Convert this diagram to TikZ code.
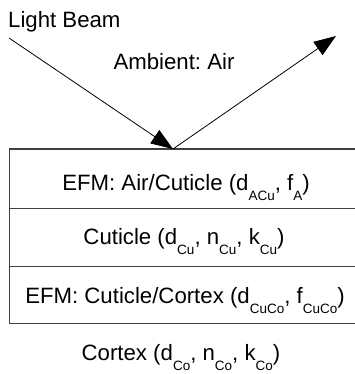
\documentclass[tikz,border=0pt]{standalone}
\usepackage{fontspec}
\setmainfont{Liberation Sans}
\usetikzlibrary{arrows.meta}
\frenchspacing
\newcommand{\sbs}[1]{\raisebox{-10pt}{\fontsize{13.5}{14}\selectfont #1}}
\tikzset{
  lbl/.style={anchor=base, inner sep=0pt, font=\fontsize{22.2}{25}\selectfont},
  beam/.style={line width=0.8pt, -{Triangle[length=22pt,width=16pt]}},
  layer/.style={line width=1pt, draw=black!75}
}
\begin{document}
\begin{tikzpicture}[x=1pt,y=-1pt]
\useasboundingbox (0,0) rectangle (355,374);
% layers
\draw[layer] (355,149) -- (9.5,149) -- (9.5,323) -- (355,323);
\draw[layer] (9.5,208) -- (355,208);
\draw[layer] (9.5,266) -- (355,266);
% texts
\node[lbl, anchor=base west] (lb) at (8,28) {Light Beam};
\node[lbl] (amb) at (174,70) {Ambient: Air};
\node[lbl] (l1) at (186,190) {EFM: Air/Cuticle (d\sbs{ACu}, f\sbs{A})};
\node[lbl] (l2) at (184,244) {Cuticle (d\sbs{Cu}, n\sbs{Cu}, k\sbs{Cu})};
\node[lbl] (l3) at (185,303) {EFM: Cuticle/Cortex (d\sbs{CuCo}, f\sbs{CuCo})};
\node[lbl] (l4) at (181,360) {Cortex (d\sbs{Co}, n\sbs{Co}, k\sbs{Co})};
% beams
\coordinate (src) at (9,38);
\coordinate (hit) at (173,149);
\coordinate (out) at (336,36);
\draw[beam] (src) -- (hit);
\draw[beam] (hit) -- (out);
\end{tikzpicture}
\end{document}
